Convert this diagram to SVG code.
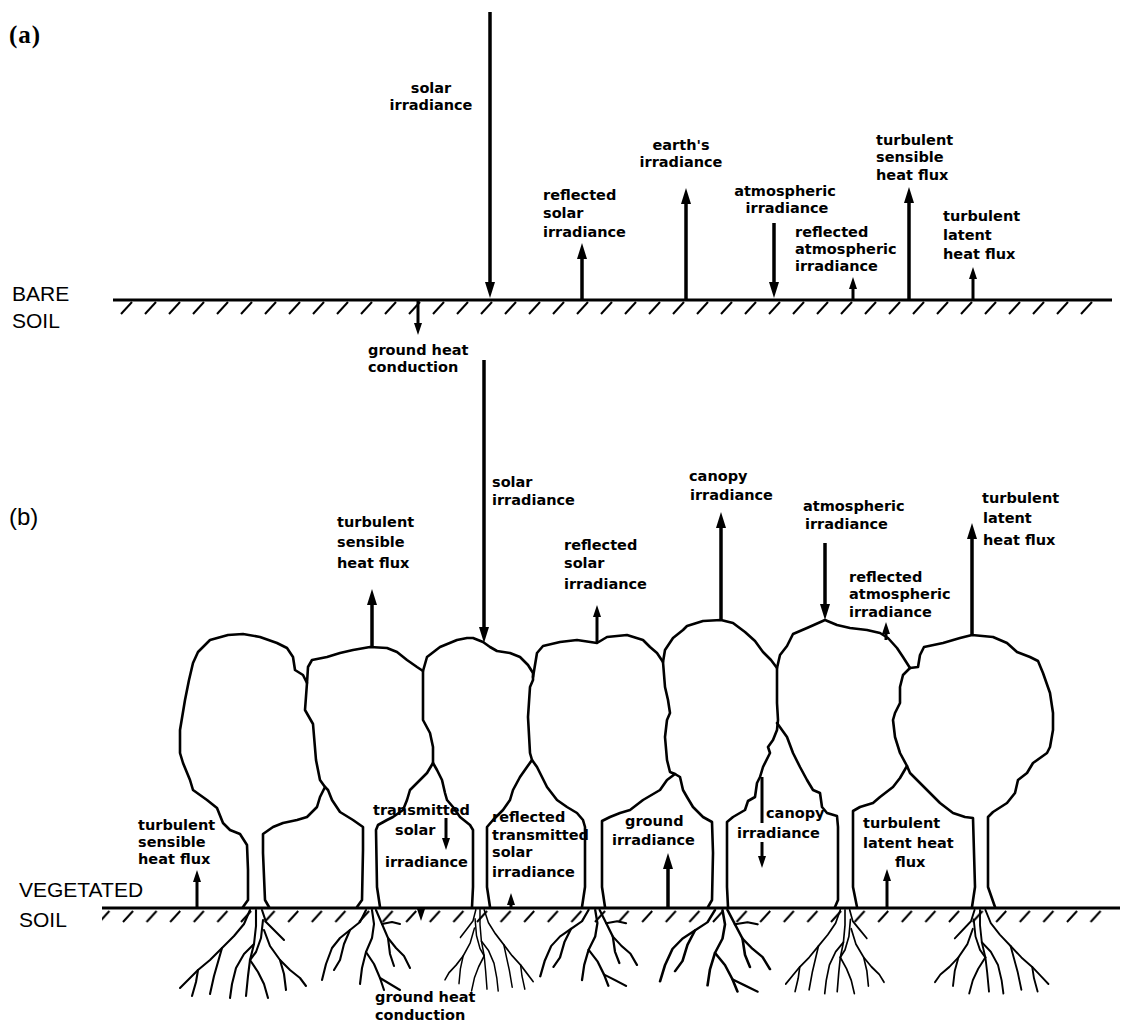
<svg xmlns="http://www.w3.org/2000/svg" xmlns:xlink="http://www.w3.org/1999/xlink" width="1126" height="1022" viewBox="0 0 1126 1022">
<style>
.t{font-family:"DejaVu Sans",sans-serif;font-weight:bold;font-size:14.5px;fill:#000}
.c{text-anchor:middle}
.lab{font-family:"Liberation Sans",Arial,sans-serif;font-size:21px;fill:#000}
.ar{stroke:#000;stroke-width:3.5;fill:none;marker-end:url(#head)}
.as{stroke:#000;stroke-width:3;fill:none;marker-end:url(#headS)}
.gl{stroke:#000;stroke-width:3;fill:none}
.tr path{stroke:#000;stroke-width:2.6;fill:none;stroke-linejoin:round;stroke-linecap:round}
</style>
<defs>
<marker id="head" markerUnits="userSpaceOnUse" markerWidth="16" markerHeight="10" refX="8" refY="5" orient="auto"><path d="M0,0 L16,5 L0,10 z" fill="#000"/></marker>
<marker id="headS" markerUnits="userSpaceOnUse" markerWidth="12" markerHeight="8" refX="6" refY="4" orient="auto"><path d="M0,0 L12,4 L0,8 z" fill="#000"/></marker>
<pattern id="hatchA" patternUnits="userSpaceOnUse" x="0" y="300" width="24" height="15"><path d="M1,14 L12,2" stroke="#000" stroke-width="2"/></pattern>
<pattern id="hatchB" patternUnits="userSpaceOnUse" x="4" y="908" width="23.6" height="15"><path d="M1,14 L11,3" stroke="#000" stroke-width="2"/></pattern>
<g id="rootA" fill="none" stroke="#000" stroke-width="2.1" stroke-linejoin="round" stroke-linecap="round">
<path d="M-6,2 L-12,16 L-22,28 L-34,40 L-46,52 L-58,62 L-68,72 L-76,80"/>
<path d="M-34,40 L-38,54 L-42,68 L-46,86"/>
<path d="M-58,62 L-60,74 L-64,88"/>
<path d="M0,2 L0,18 L-2,36 L-6,52 L-8,68 L-10,88"/>
<path d="M-2,36 L-12,46 L-20,60 L-24,76 L-26,90"/>
<path d="M6,2 L10,14 L20,24 L28,32"/>
<path d="M7,12 L5,30 L0,44 L-6,52"/>
<path d="M8,22 L14,38 L24,52 L34,62 L44,70 L50,78"/>
<path d="M24,52 L28,66 L30,82"/>
<path d="M-6,52 L2,64 L8,76 L12,90"/>
</g>
<g id="rootB" fill="none" stroke="#000" stroke-width="2.1" stroke-linejoin="round" stroke-linecap="round">
<path d="M-4,2 L-10,14 L-20,22 L-30,30 L-38,40 L-44,56 L-48,72"/>
<path d="M-20,22 L-26,36 L-30,52 L-36,62"/>
<path d="M2,2 L4,16 L2,30 L-4,44 L-8,60 L-10,76"/>
<path d="M-4,44 L4,56 L10,70 L14,82"/>
<path d="M6,2 L12,16 L18,30 L26,40 L34,48 L40,60"/>
<path d="M18,30 L20,46 L24,58"/>
<path d="M12,16 L22,14 L30,16"/>
<path d="M10,70 L20,76 L30,82"/>
</g>
</defs>
<rect width="1126" height="1022" fill="#fff"/>

<!-- panel labels -->
<text x="9" y="43" font-family="Liberation Serif,serif" font-size="25" font-weight="bold" letter-spacing="1">(a)</text>
<text x="9" y="525" font-family="Liberation Sans,sans-serif" font-size="24">(b)</text>
<text x="12" y="301" class="lab">BARE</text>
<text x="12" y="328" class="lab">SOIL</text>
<text x="19" y="897" class="lab">VEGETATED</text>
<text x="19" y="927" class="lab">SOIL</text>

<!-- ground -->
<g id="ground">
<path class="gl" d="M113,300 H1112"/>
<rect x="113" y="301" width="990" height="14" fill="url(#hatchA)"/>
<path class="gl" d="M102,908 H1120"/>
<rect x="102" y="909" width="1010" height="14" fill="url(#hatchB)"/>
</g>

<!-- trees -->
<g class="tr">
<g id="tree1"><path d="M243,907 L248,900 L248,870 L247,845 L240,834 L230,830 L223,823 L217,808 L207,800 L193,790 L190,780 L183,763 L180,753 L180,730 L185,700 L189,680 L193,663 L198,652 L210,640 L228,635 L243,634 L260,637 L277,643 L287,648 L293,657 L295,670 L303,675 L307,683 L305,710 L313,724 L316,760 L320,780 L325,787 L320,797 L317,807 L307,817 L297,820 L283,823 L273,827 L263,834 L263,853 L265,900 L269,907"/></g>
<g id="tree2"><path d="M307,683 L308,667 L312,660 L327,657 L340,653 L353,650 L370,647 L387,648 L397,652 L407,660 L417,667 L423,671 L423,697 L423,720 L430,733 L433,747 L433,763 L427,773 L417,783 L410,790 L407,800 L403,810 L393,817 L387,820 L378,825 L376,830 L377,887 L380,907"/><path d="M325,787 L328,790 L332,800 L340,812 L353,820 L363,827 L363,850 L362,900 L357,907"/></g>
<g id="tree3"><path d="M423,671 L427,657 L440,647 L457,640 L467,638 L473,638 L483,642 L490,647 L497,651 L510,653 L520,657 L528,665 L533,673 L533,680 L530,687 L528,717 L530,753 L532,760 L527,767 L520,777 L513,790 L510,800 L503,810 L493,820 L487,827 L487,887 L490,907"/><path d="M433,763 L437,770 L442,780 L445,793 L447,800 L453,807 L460,817 L470,825 L473,830 L473,887 L472,907"/></g>
<g id="tree4"><path d="M533,677 L537,653 L543,646 L560,642 L577,640 L597,643 L607,637 L627,635 L643,640 L650,647 L657,653 L663,662 L665,687 L668,700 L670,713 L667,720 L665,737 L667,760 L670,772 L675,774 L667,780 L660,790 L643,800 L630,810 L620,813 L610,817 L602,821 L602,887 L605,907"/><path d="M532,760 L537,767 L547,787 L557,800 L567,807 L577,813 L583,820 L585,827 L585,887 L582,907"/></g>
<g id="tree5"><path d="M663,662 L665,650 L673,638 L683,630 L687,626 L703,621 L721,620 L733,623 L745,632 L755,641 L763,652 L771,660 L777,668 L777,703 L778,720 L777,730 L773,740 L768,747 L770,753 L763,767 L760,777 L757,783 L755,797 L748,801 L745,810 L733,817 L727,822 L727,887 L728,907"/><path d="M675,774 L680,777 L683,790 L687,797 L693,807 L703,817 L712,822 L713,853 L712,900 L708,907"/></g>
<g id="tree6"><path d="M777,668 L780,655 L787,646 L793,634 L807,628 L825,620 L837,625 L850,628 L867,630 L880,633 L888,638 L897,648 L903,657 L910,668"/><path d="M777,723 L787,737 L793,753 L800,767 L807,780 L813,790 L820,793 L822,807 L827,813 L837,816 L838,827 L838,900 L835,907"/><path d="M907,766 L900,778 L893,787 L880,797 L873,803 L860,807 L853,811 L853,887 L857,907"/></g>
<g id="tree7"><path d="M910,668 L918,667 L920,655 L924,647 L943,643 L960,638 L972,635 L993,637 L1007,643 L1017,652 L1030,657 L1038,661 L1043,673 L1050,693 L1053,713 L1053,730 L1050,747 L1047,753 L1033,763 L1027,773 L1018,780 L1015,793 L1007,803 L993,812 L988,817 L988,887 L995,907"/><path d="M910,668 L903,675 L900,687 L900,703 L895,713 L893,720 L895,737 L900,753 L907,766 L910,773 L920,783 L930,793 L940,803 L953,813 L965,817 L973,818 L975,887 L972,907"/></g>
</g>

<!-- roots -->
<g id="roots">
<use xlink:href="#rootA" transform="translate(256,908)"/>
<use xlink:href="#rootB" transform="translate(370,908)"/>
<use xlink:href="#rootA" transform="translate(480,908) scale(-0.7,0.92)"/>
<use xlink:href="#rootB" transform="translate(593,908) scale(1.1,0.95)"/>
<use xlink:href="#rootB" transform="translate(720,908) scale(1.25,1.02)"/>
<use xlink:href="#rootA" transform="translate(845,908) scale(0.78,0.95)"/>
<use xlink:href="#rootA" transform="translate(980,908) scale(-0.9,0.95)"/>
</g>

<!-- connectors -->
<g id="connectors">
<path class="ar" d="M490,12 V290"/>
<path class="as" d="M418,301 V329"/>
<path class="ar" d="M582,299 V251"/>
<path class="ar" d="M686,299 V196"/>
<path class="ar" d="M774,223 V290"/>
<path class="as" d="M853,299 V283"/>
<path class="ar" d="M909,299 V195"/>
<path class="as" d="M973,299 V273"/>

<path class="ar" d="M484,360 V635"/>
<path class="ar" d="M372,647 V597"/>
<path class="as" d="M597,643 V611"/>
<path class="ar" d="M721,620 V520"/>
<path class="ar" d="M825,543 V612"/>
<path class="as" d="M886,640 V628"/>
<path class="ar" d="M972,635 V531"/>

<path class="as" d="M197,907 V876"/>
<path class="as" d="M446,818 V844"/>
<path class="as" d="M511,907 V899"/>
<path class="ar" d="M668,907 V861"/>
<path class="gl" d="M762,777 V823"/>
<path class="as" d="M762,842 V862"/>
<path class="as" d="M887,907 V875"/>
<path class="as" d="M421,909 V915"/>
</g>

<!-- labels -->
<g id="labels-a">
<text x="431" y="93" class="t c">solar</text>
<text x="431" y="110" class="t c">irradiance</text>
<text x="543" y="200" class="t">reflected</text>
<text x="543" y="218" class="t">solar</text>
<text x="543" y="237" class="t">irradiance</text>
<text x="681" y="150" class="t c">earth's</text>
<text x="681" y="167" class="t c">irradiance</text>
<text x="785" y="196" class="t c">atmospheric</text>
<text x="787" y="213" class="t c">irradiance</text>
<text x="795" y="237" class="t">reflected</text>
<text x="795" y="254" class="t">atmospheric</text>
<text x="795" y="271" class="t">irradiance</text>
<text x="876" y="145" class="t">turbulent</text>
<text x="876" y="162" class="t">sensible</text>
<text x="876" y="180" class="t">heat flux</text>
<text x="943" y="221" class="t">turbulent</text>
<text x="943" y="240" class="t">latent</text>
<text x="943" y="259" class="t">heat flux</text>
<text x="368" y="355" class="t">ground heat</text>
<text x="368" y="372" class="t">conduction</text>
</g>
<g id="labels-b">
<text x="492" y="487" class="t">solar</text>
<text x="492" y="505" class="t">irradiance</text>
<text x="337" y="527" class="t">turbulent</text>
<text x="337" y="547" class="t">sensible</text>
<text x="337" y="568" class="t">heat flux</text>
<text x="564" y="550" class="t">reflected</text>
<text x="564" y="568" class="t">solar</text>
<text x="564" y="589" class="t">irradiance</text>
<text x="689" y="481" class="t">canopy</text>
<text x="690" y="500" class="t">irradiance</text>
<text x="803" y="511" class="t">atmospheric</text>
<text x="805" y="529" class="t">irradiance</text>
<text x="849" y="582" class="t">reflected</text>
<text x="849" y="599" class="t">atmospheric</text>
<text x="849" y="617" class="t">irradiance</text>
<text x="982" y="503" class="t">turbulent</text>
<text x="983" y="523" class="t">latent</text>
<text x="983" y="545" class="t">heat flux</text>

<text x="138" y="830" class="t">turbulent</text>
<text x="138" y="847" class="t">sensible</text>
<text x="138" y="864" class="t">heat flux</text>
<text x="373" y="815" class="t">transmitted</text>
<text x="395" y="835" class="t">solar</text>
<text x="385" y="867" class="t">irradiance</text>
<text x="492" y="822" class="t">reflected</text>
<text x="492" y="840" class="t">transmitted</text>
<text x="492" y="857" class="t">solar</text>
<text x="492" y="877" class="t">irradiance</text>
<text x="625" y="826" class="t">ground</text>
<text x="612" y="845" class="t">irradiance</text>
<text x="766" y="818" class="t">canopy</text>
<text x="737" y="838" class="t">irradiance</text>
<text x="863" y="828" class="t">turbulent</text>
<text x="863" y="848" class="t">latent heat</text>
<text x="895" y="867" class="t">flux</text>
<text x="375" y="1002" class="t">ground heat</text>
<text x="375" y="1020" class="t">conduction</text>
</g>
</svg>
